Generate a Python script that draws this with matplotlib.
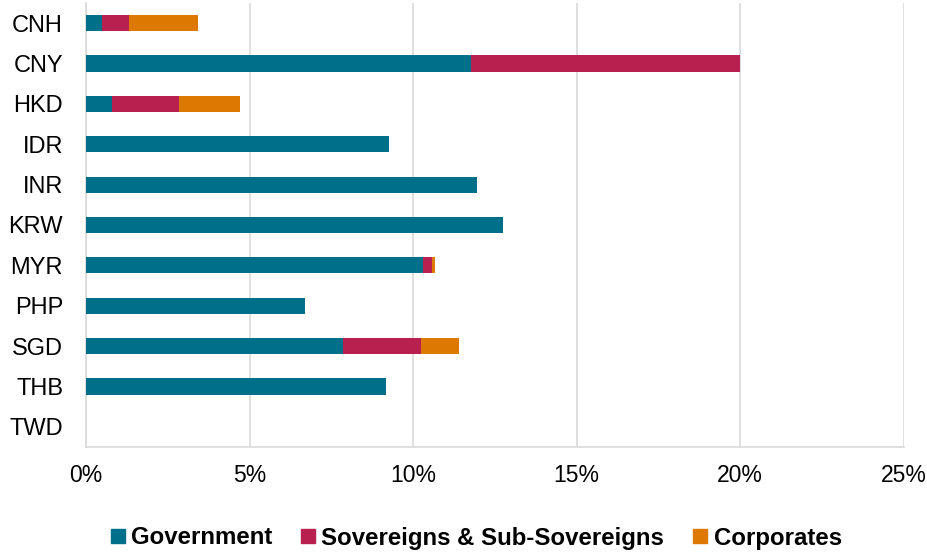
import numpy as np
import matplotlib.pyplot as plt
from matplotlib.ticker import FuncFormatter
from matplotlib.lines import Line2D

plt.rcParams['font.family'] = ['Liberation Sans', 'DejaVu Sans']

currencies = ["CNH", "CNY", "HKD", "IDR", "INR", "KRW", "MYR", "PHP", "SGD", "THB", "TWD"]
government = [0.48, 11.77, 0.78, 9.27, 11.96, 12.75, 10.32, 6.71, 7.85, 9.17, 0.0]
sovereigns = [0.82, 8.23, 2.07, 0.0, 0.0, 0.0, 0.25, 0.0, 2.40, 0.0, 0.0]
corporates = [2.13, 0.0, 1.86, 0.0, 0.0, 0.0, 0.11, 0.0, 1.16, 0.0, 0.0]

series = ["Government", "Sovereigns & Sub-Sovereigns", "Corporates"]
colors = ['#006F8A', '#B82050', '#DD7800']


def main():
    fig = plt.figure(figsize=(9.28, 5.53), dpi=100)
    ax = fig.add_axes([0.0927, 0.1917, 0.8809, 0.8029])

    y = np.arange(len(currencies))
    gov = np.array(government)
    sov = np.array(sovereigns)
    cor = np.array(corporates)
    h = 0.4
    ax.barh(y, gov, h, color=colors[0], zorder=3)
    ax.barh(y, sov, h, left=gov, color=colors[1], zorder=3)
    ax.barh(y, cor, h, left=gov + sov, color=colors[2], zorder=3)

    ax.set_xlim(0, 25)
    ax.set_ylim(len(currencies) - 0.5, -0.5)
    ax.set_xticks(np.arange(0, 26, 5))
    ax.xaxis.set_major_formatter(FuncFormatter(lambda v, p: f"{v:.0f}%"))
    ax.set_yticks(y)
    ax.set_yticklabels(currencies)
    ax.tick_params(axis='y', length=0, pad=16.5, labelsize=17)
    ax.tick_params(axis='x', length=0, pad=12.5, labelsize=16.5)

    ax.grid(axis='x', color='#D9D9D9', linewidth=1.2, zorder=0)
    for s in ['top', 'right']:
        ax.spines[s].set_visible(False)
    for s in ['left', 'bottom']:
        ax.spines[s].set_color('#D9D9D9')
        ax.spines[s].set_linewidth(1.2)

    handles = [Line2D([], [], marker='s', linestyle='none', markersize=9.5,
                      markerfacecolor=c, markeredgecolor=c) for c in colors]
    fig.legend(handles, series, loc='center', bbox_to_anchor=(0.513, 1 - 538 / 553),
               ncol=3, frameon=False, prop={'size': 17.3, 'weight': 'bold'},
               handlelength=0.6, handletextpad=0.25, columnspacing=1.2,
               borderaxespad=0)

    fig.savefig("out.png", dpi=100, facecolor='white')
    plt.close(fig)


if __name__ == "__main__":
    main()
